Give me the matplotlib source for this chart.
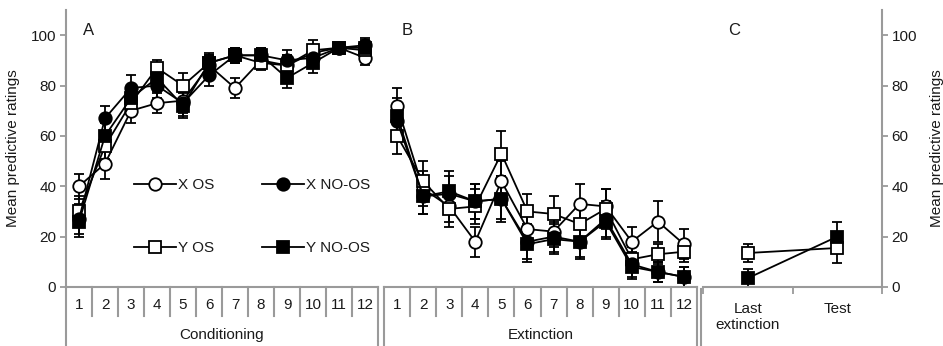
import matplotlib
matplotlib.use("Agg")
import matplotlib.pyplot as plt
import matplotlib.transforms as mtransforms
from matplotlib.lines import Line2D
from matplotlib.legend_handler import HandlerErrorbar

plt.rcParams['font.family'] = ['Liberation Sans', 'DejaVu Sans']
plt.rcParams['font.size'] = 11

# ---------------- data ----------------
trials = list(range(1, 13))
trial_labels = [str(t) for t in trials]

# Panel A: Conditioning
cond_x_os = [40, 49, 70, 73, 74, 88, 79, 90, 88, 93, 95, 91]
cond_x_os_err = [5, 6, 5, 4, 5, 4, 4, 3, 4, 3, 2, 3]
cond_x_noos = [27, 67, 79, 80, 73, 84, 92, 92, 90, 91, 95, 96]
cond_x_noos_err = [6, 5, 5, 5, 5, 4, 3, 3, 4, 4, 2, 3]
cond_y_os = [30, 56, 73, 87, 80, 89, 92, 89, 88, 94, 95, 94]
cond_y_os_err = [6, 5, 4, 3, 5, 3, 3, 3, 4, 4, 2, 3]
cond_y_noos = [26, 60, 75, 83, 72, 89, 92, 92, 83, 89, 95, 95]
cond_y_noos_err = [6, 5, 5, 5, 5, 4, 3, 3, 4, 4, 2, 3]

# Panel B: Extinction
ext_x_os = [72, 39, 32, 18, 42, 23, 22, 33, 32, 18, 26, 17]
ext_x_os_err = [7, 7, 6, 6, 8, 6, 6, 8, 7, 6, 8, 6]
ext_x_noos = [66, 36, 37, 34, 35, 18, 20, 18, 27, 9, 6, 4]
ext_x_noos_err = [7, 7, 7, 7, 8, 7, 6, 6, 7, 5, 4, 4]
ext_y_os = [60, 42, 31, 32, 53, 30, 29, 25, 31, 11, 13, 14]
ext_y_os_err = [7, 8, 7, 7, 9, 7, 7, 7, 8, 5, 4, 4]
ext_y_noos = [68, 36, 38, 34, 35, 17, 19, 18, 26, 8, 6, 4]
ext_y_noos_err = [7, 7, 8, 7, 9, 7, 6, 7, 7, 5, 4, 4]

# Panel C: Last extinction vs Test
test_labels = ['Last\nextinction', 'Test']
test_y_os = [13.5, 15.5]
test_y_os_err = [3.6, 6]
test_y_noos = [3.5, 20]
test_y_noos_err = [3.5, 6]

series_names = ['X OS', 'X NO-OS', 'Y OS', 'Y NO-OS']

# ---------------- layout ----------------
W, H = 943, 346
fig = plt.figure(figsize=(W / 100, H / 100), dpi=100)

def px_axes(x0, x1, ytop, ybot):
    return fig.add_axes([x0 / W, (H - ybot) / H, (x1 - x0) / W, (ybot - ytop) / H])

GREY = '#9a9a9a'
TXT = '#1a1a1a'
YMAX = 110

axA = px_axes(66, 378, 10, 287)
axB = px_axes(384, 697, 10, 287)
axC = px_axes(703, 882, 10, 287)

styles = {
    'X OS': dict(marker='o', mfc='white', ms=9),
    'X NO-OS': dict(marker='o', mfc='black', ms=9),
    'Y OS': dict(marker='s', mfc='white', ms=8.3),
    'Y NO-OS': dict(marker='s', mfc='black', ms=8.3),
}

def draw(ax, x, y, e, name):
    st = styles[name]
    ax.errorbar(x, y, yerr=e, color='black', lw=1.3, elinewidth=1.3, capsize=3.5,
                capthick=1.3, marker=st['marker'], ms=st['ms'], mfc=st['mfc'],
                mec='black', mew=1.3, label=name, clip_on=False)

for x_os, x_noos, y_os, y_noos, ax, e1, e2, e3, e4 in [
    (cond_x_os, cond_x_noos, cond_y_os, cond_y_noos, axA,
     cond_x_os_err, cond_x_noos_err, cond_y_os_err, cond_y_noos_err),
    (ext_x_os, ext_x_noos, ext_y_os, ext_y_noos, axB,
     ext_x_os_err, ext_x_noos_err, ext_y_os_err, ext_y_noos_err)]:
    draw(ax, trials, x_os, e1, 'X OS')
    draw(ax, trials, y_os, e3, 'Y OS')
    draw(ax, trials, x_noos, e2, 'X NO-OS')
    draw(ax, trials, y_noos, e4, 'Y NO-OS')

xc = [0, 1]
draw(axC, xc, test_y_os, test_y_os_err, 'Y OS')
draw(axC, xc, test_y_noos, test_y_noos_err, 'Y NO-OS')

# ---------------- axes styling ----------------
ticks = [0, 20, 40, 60, 80, 100]
for ax in (axA, axB, axC):
    ax.set_ylim(0, YMAX)
    for s in ax.spines.values():
        s.set_visible(False)
    ax.spines['bottom'].set_visible(True)
    ax.spines['bottom'].set_color(GREY)
    ax.spines['bottom'].set_linewidth(1.5)

for ax, grp in ((axA, 'Conditioning'), (axB, 'Extinction')):
    ax.set_xlim(0.5, 12.5)
    ax.set_xticks([])
    tr = mtransforms.blended_transform_factory(ax.transData, ax.transAxes)
    for k in range(13):
        xb = 0.5 + k
        yb = -0.215 if k in (0, 12) else -0.105
        ax.plot([xb, xb], [0, yb], transform=tr, color=GREY, lw=1.5, clip_on=False)
    for t, lab in zip(trials, trial_labels):
        ax.text(t, -0.064, lab, transform=tr, ha='center', va='center', color=TXT)
    ax.text(6.5, -0.172, grp, transform=tr, ha='center', va='center', color=TXT)

axA.spines['left'].set_visible(True)
axA.spines['left'].set_color(GREY)
axA.spines['left'].set_linewidth(1.5)
axA.set_yticks(ticks)
axA.tick_params(axis='y', direction='out', length=4, width=1.3, color=GREY,
                labelcolor=TXT, labelsize=11, pad=3)
axA.set_ylabel('Mean predictive ratings', color=TXT, fontsize=11, labelpad=8)

axB.set_yticks([])

axC.set_xlim(-0.5, 1.5)
axC.set_xticks([-0.5, 0.5, 1.5])
axC.set_xticklabels([])
axC.tick_params(axis='x', direction='out', length=5, width=1.3, color=GREY)
trC = mtransforms.blended_transform_factory(axC.transData, axC.transAxes)
for xi, lab in zip(xc, test_labels):
    axC.text(xi, -0.055, lab, transform=trC, ha='center', va='top', color=TXT,
             linespacing=1.15)
axC.spines['right'].set_visible(True)
axC.spines['right'].set_color(GREY)
axC.spines['right'].set_linewidth(1.5)
axC.yaxis.tick_right()
axC.yaxis.set_label_position('right')
axC.set_yticks(ticks)
axC.tick_params(axis='y', direction='out', length=4, width=1.3, color=GREY,
                labelcolor=TXT, labelsize=11, pad=3)
axC.set_ylabel('Mean predictive ratings', color=TXT, fontsize=11, labelpad=9)

# line separating panel B group box from panel C
fig.add_artist(Line2D([700.5 / W, 700.5 / W], [(H - 289) / H, (H - 346) / H],
                      color=GREY, lw=1.5))

# panel letters
axA.text(0.055, 0.925, 'A', transform=axA.transAxes, fontsize=12, color=TXT, va='center')
axB.text(0.055, 0.925, 'B', transform=axB.transAxes, fontsize=12, color=TXT, va='center')
axC.text(0.14, 0.925, 'C', transform=axC.transAxes, fontsize=12, color=TXT, va='center')

# legend in panel A
h, l = axA.get_legend_handles_labels()
lookup = dict(zip(l, h))
leg_order = ['X OS', 'Y OS', 'X NO-OS', 'Y NO-OS']
hs = [lookup[n] for n in leg_order]
leg = axA.legend(hs, leg_order, ncol=2, loc='center', bbox_to_anchor=(0.596, 0.253),
                 frameon=False, handlelength=2.75, handletextpad=0.15,
                 columnspacing=3.1, labelspacing=3.2, borderpad=0, fontsize=11,
                 handler_map={type(hs[0]): HandlerErrorbar(xerr_size=0, yerr_size=0)})
for t in leg.get_texts():
    t.set_color(TXT)

fig.savefig('out.png', dpi=100)
